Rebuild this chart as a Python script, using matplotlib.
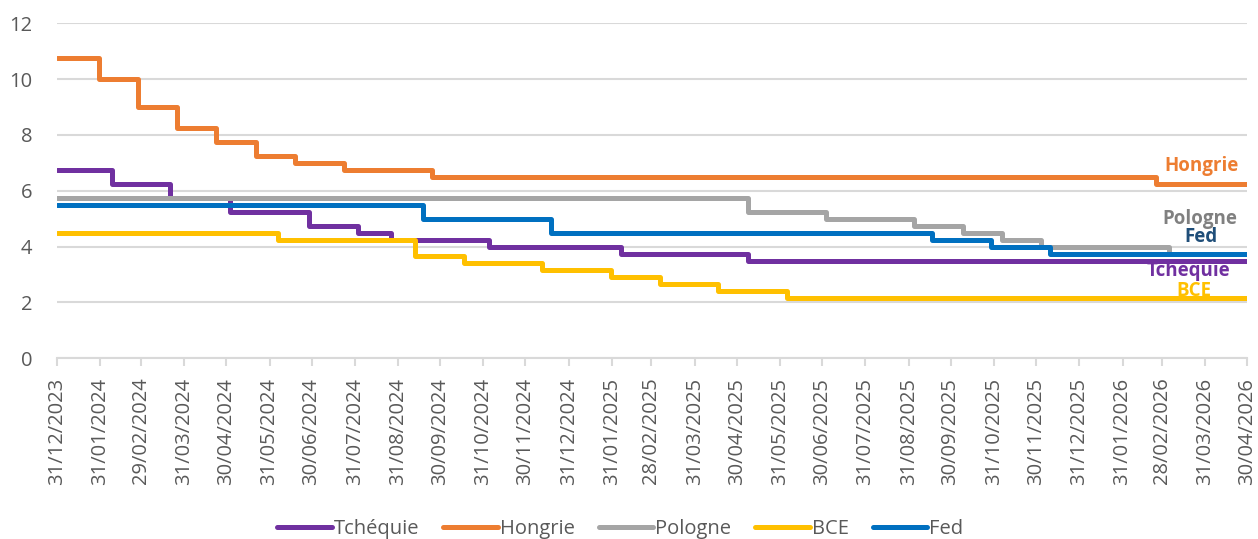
import numpy as np
import pandas as pd
import matplotlib
matplotlib.use("Agg")
import matplotlib.pyplot as plt

plt.rcParams['font.family'] = ['Open Sans', 'DejaVu Sans']

end_date = "2026-04-30"

# policy rate change dates and new levels
tch_dates = ["2023-12-31", "2024-02-08", "2024-03-21", "2024-05-03", "2024-06-28",
             "2024-08-02", "2024-08-26", "2024-11-04", "2025-02-06", "2025-05-08"]
tch_rates = [6.75, 6.25, 5.75, 5.25, 4.75, 4.5, 4.25, 4.0, 3.75, 3.5]

hon_dates = ["2023-12-31", "2024-01-30", "2024-02-27", "2024-03-26", "2024-04-23",
             "2024-05-21", "2024-06-18", "2024-07-23", "2024-09-24", "2026-02-24"]
hon_rates = [10.75, 10.0, 9.0, 8.25, 7.75, 7.25, 7.0, 6.75, 6.5, 6.25]

pol_dates = ["2023-12-31", "2025-05-08", "2025-07-03", "2025-09-04", "2025-10-09",
             "2025-11-06", "2025-12-04", "2026-03-05"]
pol_rates = [5.75, 5.25, 5.0, 4.75, 4.5, 4.25, 4.0, 3.75]

bce_dates = ["2023-12-31", "2024-06-06", "2024-09-12", "2024-10-17", "2024-12-12",
             "2025-01-30", "2025-03-06", "2025-04-17", "2025-06-05"]
bce_rates = [4.5, 4.25, 3.65, 3.40, 3.15, 2.90, 2.65, 2.40, 2.15]

fed_dates = ["2023-12-31", "2024-09-18", "2024-12-18", "2025-09-17", "2025-10-29",
             "2025-12-10"]
fed_rates = [5.5, 5.0, 4.5, 4.25, 4.0, 3.75]

series = [
    ("Tchéquie", tch_dates, tch_rates, "#7030A0", "#7030A0", (-59, -10)),
    ("Hongrie", hon_dates, hon_rates, "#ED7D31", "#ED7D31", (-46, 18)),
    ("Pologne", pol_dates, pol_rates, "#A5A5A5", "#808080", (-47, 35)),
    ("BCE", bce_dates, bce_rates, "#FFC000", "#FFC000", (-53, 7)),
    ("Fed", fed_dates, fed_rates, "#0070C0", "#1F4E79", (-46, 17)),
]

fig = plt.figure(figsize=(12.58, 5.39), dpi=100)
ax = fig.add_axes([57 / 1258, 1 - 358.3 / 539, 1190 / 1258, 335 / 539])

for name, d, r, col, tcol, off in series:
    x = pd.to_datetime(d + [end_date])
    y = r + [r[-1]]
    ax.plot(x, y, drawstyle='steps-post', color=col, lw=3.6, label=name,
            solid_joinstyle='round', solid_capstyle='round')

# end labels, drawn after the lines
for name, d, r, col, tcol, off in series:
    ax.annotate(name, xy=(pd.Timestamp(end_date), r[-1]), xytext=off,
                textcoords='offset pixels', ha='center', va='center',
                color=tcol, fontsize=13.5, fontweight='bold', zorder=5)

ax.set_ylim(0, 12)
ax.set_yticks(np.arange(0, 13, 2))
ax.set_xlim(pd.Timestamp("2023-12-31"), pd.Timestamp(end_date))
ticks = pd.date_range("2023-12-31", end_date, freq="ME")
ax.set_xticks(ticks)
ax.set_xticklabels([t.strftime("%d/%m/%Y") for t in ticks], rotation=90)

ax.grid(axis='y', color='#D9D9D9', lw=1.5)
ax.set_axisbelow(True)
for s in ['top', 'right', 'left']:
    ax.spines[s].set_visible(False)
ax.spines['bottom'].set_color('#D9D9D9')
ax.spines['bottom'].set_linewidth(1.5)
ax.tick_params(axis='x', colors='#D9D9D9', length=6, width=1.5, pad=8,
               labelcolor='#595959', labelsize=14.5)
ax.tick_params(axis='y', length=0, pad=18, labelcolor='#595959', labelsize=14.5)

fig.legend(loc='center', bbox_to_anchor=(0.493, 1 - 529 / 539), ncol=5,
           frameon=False, fontsize=14.5, handlelength=2.7, handletextpad=0.1,
           columnspacing=1.2, labelcolor='#595959')

fig.savefig("out.png", dpi=100)
